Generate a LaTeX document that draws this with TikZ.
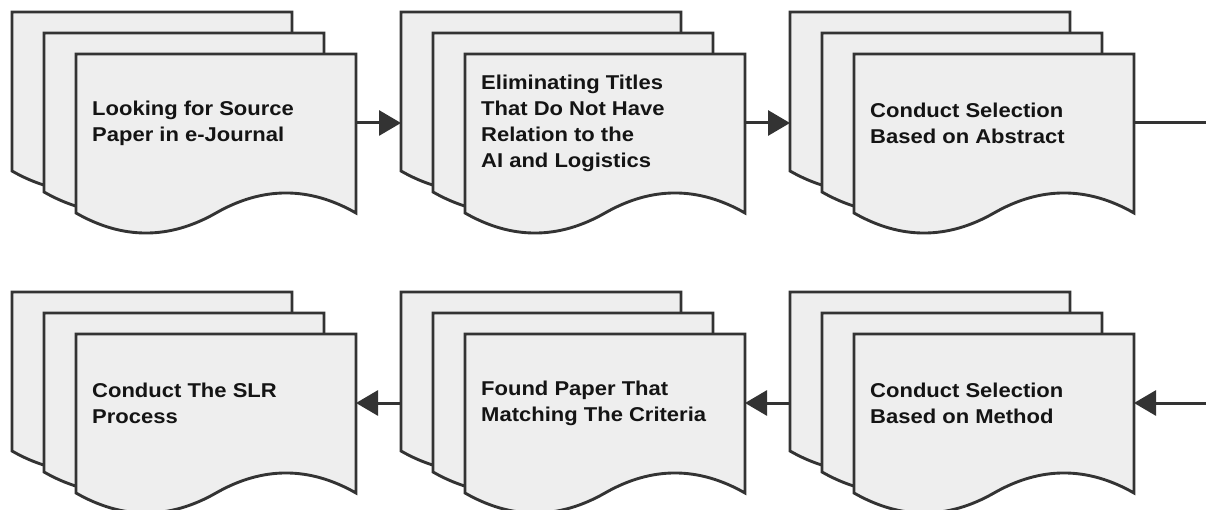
\documentclass[tikz,border=0pt]{standalone}
\usepackage{fontspec}
\setmainfont{Liberation Sans}
\usetikzlibrary{arrows.meta,calc}
\definecolor{sheetfill}{HTML}{EEEEEE}
\definecolor{ink}{HTML}{333333}
\tikzset{
  sheet/.style={draw=ink, fill=sheetfill, line width=2.9pt, line join=miter},
  label/.style={anchor=west, align=left, inner sep=0pt, text=black!92,
    font=\bfseries\fontsize{20}{26}\selectfont, transform shape, xscale=1.1},
  conn/.style={draw=ink, line width=3pt, -{Triangle[length=22pt,width=25pt]}},
  plain/.style={draw=ink, line width=3pt}
}
\newcommand\onesheet[2]{%
  \draw[sheet] (#1,#2) -- ++(280,0) -- ++(0,159)
    .. controls ($(#1,#2)+(233.3,132.3)$) and ($(#1,#2)+(186.7,132.3)$) .. ($(#1,#2)+(140,159)$)
    .. controls ($(#1,#2)+(93.3,185.7)$) and ($(#1,#2)+(46.7,185.7)$) .. ($(#1,#2)+(0,159)$) -- cycle;}
\newcommand\docstack[4]{%
  \begin{scope}[shift={(#2,#3)}]
    \onesheet{0}{0}
    \onesheet{32}{21}
    \onesheet{64}{42}
    \node[label] (#1) at (80,111) {#4};
    \coordinate (#1-in) at (0,111);
    \coordinate (#1-out) at (344,111);
  \end{scope}}
\begin{document}
\begin{tikzpicture}[x=1pt,y=-1pt]
\useasboundingbox (0,0) rectangle (1206,510);
\fill[white] (0,0) rectangle (1206,510);
\docstack{g1}{12}{12}{Looking for Source\\Paper in e-Journal}
\docstack{g2}{401}{12}{Eliminating Titles\\That Do Not Have\\Relation to the\\AI and Logistics}
\docstack{g3}{790}{12}{Conduct Selection\\Based on Abstract}
\docstack{g4}{12}{292}{Conduct The SLR\\Process}
\docstack{g5}{401}{292}{Found Paper That\\Matching The Criteria}
\docstack{g6}{790}{292}{Conduct Selection\\Based on Method}
\coordinate (r1) at (1207,123);
\coordinate (r2) at (1207,403);
\draw[conn] (g1-out) -- (g2-in);
\draw[conn] (g2-out) -- (g3-in);
\draw[plain] (g3-out) -- (r1) -- (r2);
\draw[conn] (r2) -- (g6-out);
\draw[conn] (g6-in) -- (g5-out);
\draw[conn] (g5-in) -- (g4-out);
\end{tikzpicture}
\end{document}
